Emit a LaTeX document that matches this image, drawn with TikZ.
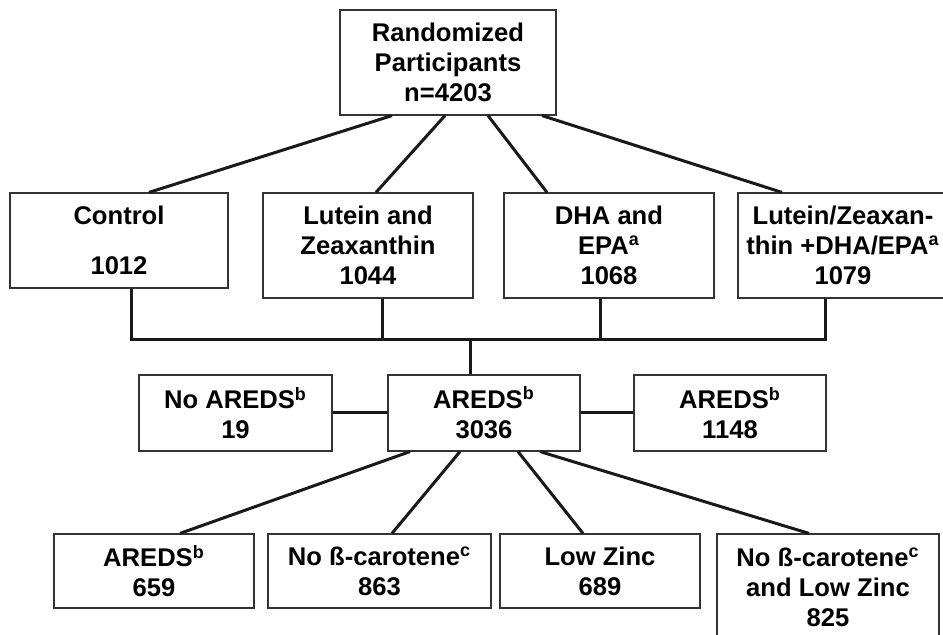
\documentclass[tikz,border=0pt]{standalone}
\usepackage{fontspec}
\setmainfont{Liberation Sans}
\usepackage{tikz}
\usetikzlibrary{calc}

\begin{document}
\begin{tikzpicture}[x=0.5pt,y=-0.5pt,font=\fontsize{12.8}{15}\selectfont\bfseries]
    % `group' is used for every box of the chart.
    % `link' is used for the heavy connecting lines.
    \tikzstyle{group} = [draw=black!80,line width=0.6pt,fill=white,align=center,inner sep=0pt]
    \tikzstyle{link} = [line width=1.5pt,black!90]
    %
    \useasboundingbox (0,0) rectangle (943,635);
    % Randomization.
    \node[group,minimum width=108pt,minimum height=52.5pt] (rand) at (448,62.5)
      {Randomized\\Participants\\n=4203};
    % First randomization (four arms).
    \node[group,minimum width=109pt,minimum height=47.5pt] (ctrl) at (119,240.5)
      {Control\\[10pt]1012};
    \node[group,minimum width=105pt,minimum height=52.5pt] (lutz) at (368,245.5)
      {Lutein and\\Zeaxanthin\\1044};
    \node[group,minimum width=105pt,minimum height=52.5pt] (dha) at (609,245.5)
      {DHA and\\EPA\textsuperscript{a}\\1068};
    \node[group,minimum width=105pt,minimum height=52.5pt] (lzdha) at (843,245.5)
      {Lutein/Zeaxan-\\thin +DHA/EPA\textsuperscript{a}\\1079};
    % AREDS consent.
    \node[group,minimum width=96.5pt,minimum height=38pt] (noareds) at (235.5,413)
      {No AREDS\textsuperscript{b}\\19};
    \node[group,minimum width=96pt,minimum height=38pt] (areds) at (484,413)
      {AREDS\textsuperscript{b}\\3036};
    \node[group,minimum width=96pt,minimum height=38pt] (aredsr) at (730,413)
      {AREDS\textsuperscript{b}\\1148};
    % Second randomization.
    \node[group,minimum width=100pt,minimum height=37pt] (ar) at (154,571)
      {AREDS\textsuperscript{b}\\659};
    \node[group,minimum width=111.5pt,minimum height=37pt] (nobc) at (379.5,571)
      {No ß-carotene\textsuperscript{c}\\863};
    \node[group,minimum width=100pt,minimum height=37pt] (lowzn) at (600,571)
      {Low Zinc\\689};
    \node[group,minimum width=111pt,minimum height=53pt] (both) at (828,587)
      {No ß-carotene\textsuperscript{c}\\and Low Zinc\\825};
    %
    % Draw lines.
    \draw[link] ($(rand.south)+(-56,0)$) -- ($(ctrl.north)+(30,0)$);
    \draw[link] ($(rand.south)+(-3,0)$) -- ($(lutz.north)+(8,0)$);
    \draw[link] ($(rand.south)+(40,0)$) -- ($(dha.north)+(-62,0)$);
    \draw[link] ($(rand.south)+(94,0)$) -- ($(lzdha.north)+(-61,0)$);
    \coordinate (bar) at (470,340);
    \draw[link] ($(ctrl.south)+(12,0)$) |- (bar);
    \draw[link] ($(lutz.south)+(14,0)$) |- (bar);
    \draw[link] ($(dha.south)+(-9,0)$) |- (bar);
    \draw[link] ($(lzdha.south)+(-18,0)$) |- (bar);
    \draw[link] (bar) -- (bar |- areds.north);
    \draw[link] (noareds) -- (areds);
    \draw[link] (areds) -- (aredsr);
    \draw[link] ($(areds.south)+(-74,0)$) -- ($(ar.north)+(26,0)$);
    \draw[link] ($(areds.south)+(-24,0)$) -- ($(nobc.north)+(12.5,0)$);
    \draw[link] ($(areds.south)+(34,0)$) -- ($(lowzn.north)+(-17,0)$);
    \draw[link] ($(areds.south)+(56,0)$) -- ($(both.north)+(-19,0)$);
\end{tikzpicture}
\end{document}
